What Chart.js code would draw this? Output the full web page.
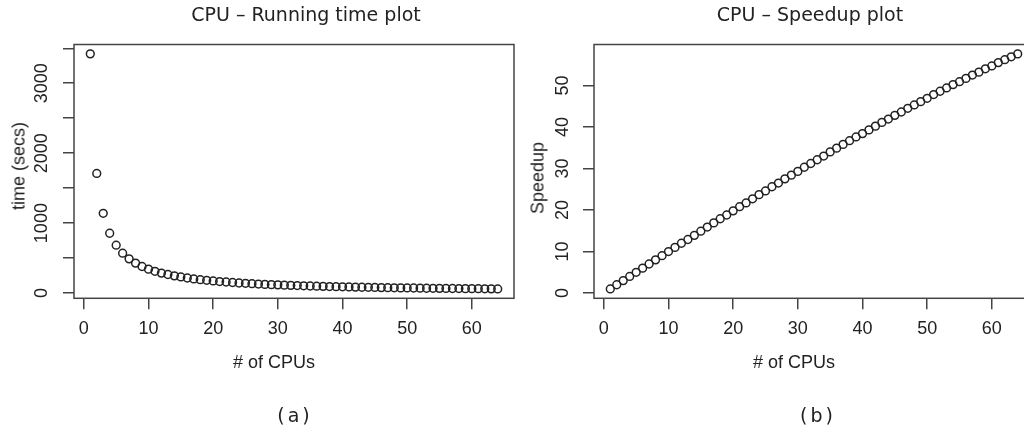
<!DOCTYPE html>
<html>
<head>
<meta charset="utf-8">
<script src="https://cdn.jsdelivr.net/npm/chart.js@4.4.1/dist/chart.umd.min.js"></script>
<style>
    html, body { margin: 0; padding: 0; background: #fff; overflow: hidden; }
    #page { position: relative; width: 1024px; height: 432px; overflow: hidden; }
    .txt { position: absolute; transform: translate(-50%, -50%); white-space: nowrap; color: #222; font-family: 'DejaVu Sans', sans-serif; z-index: 2; }
    .main { font-size: 19px; }
    .sub { font-size: 19px; letter-spacing: 3px; }
    .axis { font-family: 'Liberation Sans', Arial, sans-serif; font-size: 18px; }
    .vert { transform: translate(-50%, -50%) rotate(-90deg); }
    canvas { position: absolute; top: 0; }
</style>
</head>
<body>
<div id="page">
    <canvas id="timeChart" width="516" height="432" style="left:0px"></canvas>
    <canvas id="speedChart" width="520" height="432" style="left:516px"></canvas>
    <div class="txt main" style="left:306px; top:14px">CPU – Running time plot</div>
    <div class="txt main" style="left:810px; top:14px">CPU – Speedup plot</div>
    <div class="txt axis" style="left:274px; top:362px"># of CPUs</div>
    <div class="txt axis" style="left:794px; top:362px"># of CPUs</div>
    <div class="txt axis vert" style="left:19px; top:166px">time (secs)</div>
    <div class="txt axis vert" style="left:538px; top:178px">Speedup</div>
    <div class="txt sub" style="left:295px; top:415px">(a)</div>
    <div class="txt sub" style="left:818px; top:415px">(b)</div>
</div>
<script>
// number of CPUs used in each run
const cpus = [1, 2, 3, 4, 5, 6, 7, 8, 9, 10, 11, 12, 13, 14, 15, 16,
    17, 18, 19, 20, 21, 22, 23, 24, 25, 26, 27, 28, 29, 30, 31, 32,
    33, 34, 35, 36, 37, 38, 39, 40, 41, 42, 43, 44, 45, 46, 47, 48,
    49, 50, 51, 52, 53, 54, 55, 56, 57, 58, 59, 60, 61, 62, 63, 64]

// running time (secs) (a)
const runTime = [3420, 1710, 1140, 855, 684, 570, 489, 428, 380, 342, 311, 285, 265, 246, 230, 215,
    202, 191, 182, 173, 164, 158, 151, 144, 139, 134, 129, 124, 120, 117, 113, 110,
    107, 104, 101, 98, 96, 93, 91, 89, 87, 85, 83, 82, 80, 78, 77, 75,
    74, 73, 72, 70, 69, 68, 67, 66, 65, 64, 63, 63, 62, 61, 60, 59]

// speedup (b)
const speedup = [1.0, 2.0, 3.0, 4.0, 5.0, 6.0, 7.0, 8.0, 9.0, 10.0, 11.0, 12.0, 12.9, 13.9, 14.9, 15.9,
    16.9, 17.9, 18.8, 19.8, 20.8, 21.7, 22.7, 23.7, 24.6, 25.6, 26.5, 27.5, 28.4, 29.3, 30.3, 31.2,
    32.1, 33.0, 34.0, 34.9, 35.8, 36.7, 37.6, 38.4, 39.3, 40.2, 41.1, 41.9, 42.8, 43.6, 44.5, 45.3,
    46.1, 46.9, 47.8, 48.6, 49.4, 50.2, 50.9, 51.7, 52.5, 53.2, 54.0, 54.7, 55.5, 56.2, 56.9, 57.6]

// tick positions
const cpuTicks = [0, 10, 20, 30, 40, 50, 60]
const timeTicks = [0, 500, 1000, 1500, 2000, 2500, 3000, 3500]
const timeLabels = [0, 1000, 2000, 3000]
const speedTicks = [0, 10, 20, 30, 40, 50]

const ink = '#222'
const axisColor = '#444'
const tickFont = { family: "'Liberation Sans', Arial, sans-serif", size: 18 }

//Draws the closed frame round the plot region (R style box)
const boxPlugin = {
    id: 'box',
    afterDraw(chart) {
        const a = chart.chartArea, ctx = chart.ctx
        ctx.save()
        ctx.strokeStyle = axisColor
        ctx.lineWidth = 1.5
        ctx.strokeRect(a.left, a.top, a.right - a.left, a.bottom - a.top)
        ctx.restore()
    }
}

function makeChart(id, ys, opts) {
    const ctx = document.getElementById(id).getContext('2d')
    return new Chart(ctx, {
        type: 'scatter',
        data: {
            datasets: [{
                data: cpus.map((c, i) => ({ x: c, y: ys[i] })),
                pointStyle: 'circle',
                pointRadius: 3.9,
                pointHoverRadius: 3.9,
                borderColor: ink,
                backgroundColor: 'rgba(0,0,0,0)',
                borderWidth: 1.5
            }]
        },
        options: {
            responsive: false,
            animation: false,
            layout: { autoPadding: false, padding: { top: 44.5, bottom: 53.7, left: opts.padLeft, right: 2 } },
            plugins: { legend: { display: false }, tooltip: { enabled: false } },
            scales: {
                x: {
                    type: 'linear',
                    bounds: 'data',
                    min: -1.52,
                    max: 66.52,
                    afterBuildTicks: s => { s.ticks = cpuTicks.map(v => ({ value: v })) },
                    afterFit: s => { s.height = 80 },
                    grid: { drawOnChartArea: false, drawTicks: true, tickLength: 11, color: axisColor, lineWidth: 1.5 },
                    border: { display: false },
                    ticks: { autoSkip: false, maxRotation: 0, padding: 9.4, color: ink, font: tickFont }
                },
                y: {
                    type: 'linear',
                    bounds: 'data',
                    min: opts.yMin,
                    max: opts.yMax,
                    afterBuildTicks: s => { s.ticks = opts.yTicks.map(v => ({ value: v })) },
                    afterFit: s => { s.width = opts.yWidth },
                    grid: { drawOnChartArea: false, drawTicks: true, tickLength: 11, color: axisColor, lineWidth: 1.5 },
                    border: { display: false },
                    ticks: {
                        autoSkip: false,
                        minRotation: 90,
                        maxRotation: 90,
                        crossAlign: 'center',
                        padding: opts.tickPad,
                        color: ink,
                        font: tickFont,
                        callback: opts.yLabel
                    }
                }
            }
        },
        plugins: [boxPlugin]
    })
}

makeChart('timeChart', runTime, {
    padLeft: 1, yWidth: 73, yMin: -75, yMax: 3554, yTicks: timeTicks,
    yLabel: v => timeLabels.includes(v) ? String(v) : '', //only every other tick gets a label
    tickPad: 0.5
})

makeChart('speedChart', speedup, {
    padLeft: 0, yWidth: 78, yMin: -1.26, yMax: 59.86, yTicks: speedTicks,
    yLabel: v => String(v),
    tickPad: 10
})
</script>
</body>
</html>
